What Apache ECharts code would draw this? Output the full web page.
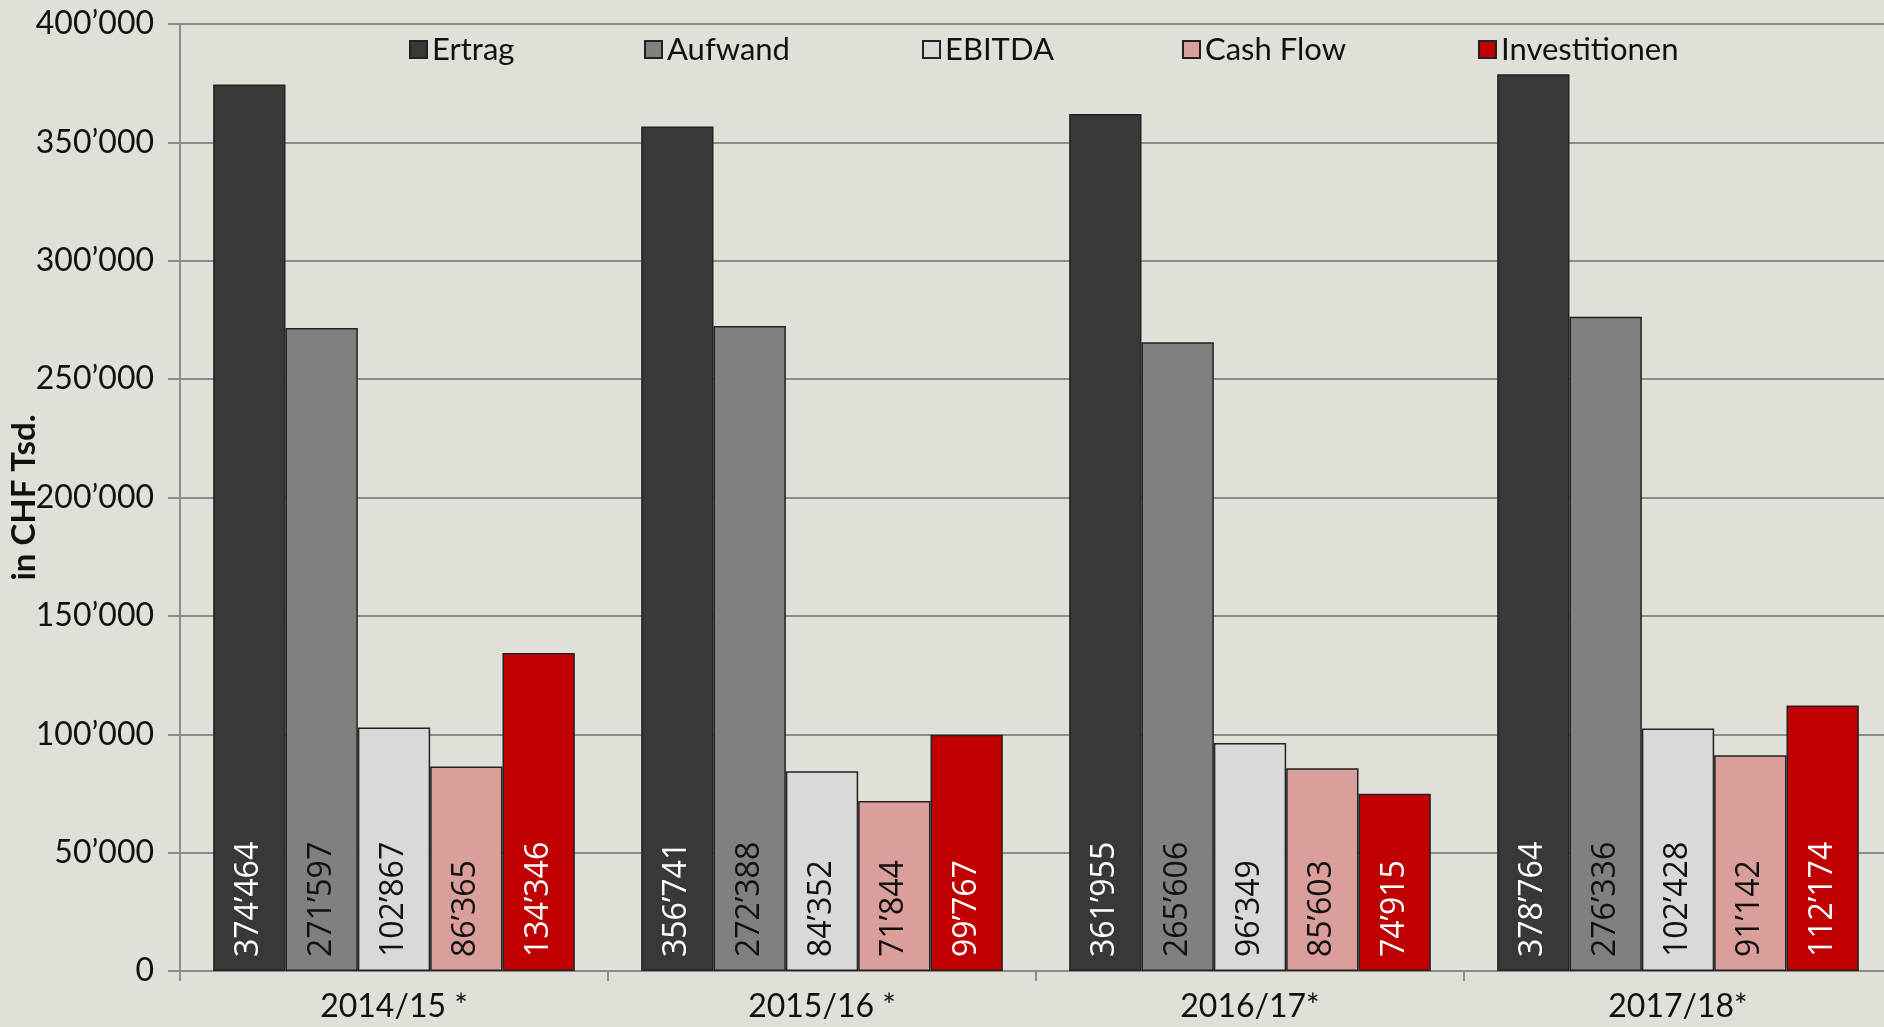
<!DOCTYPE html>
<html><head><meta charset="utf-8">
<script src="https://cdn.jsdelivr.net/npm/echarts@6/dist/echarts.min.js"></script>
<style>html,body{margin:0;padding:0;background:#e0dfd8;}#c{width:1884px;height:1027px;}</style>
</head><body><div id="c"></div>
<script>
const categories = ['2014/15 *', '2015/16 *', '2016/17*', '2017/18*'];
const seriesNames = ['Ertrag', 'Aufwand', 'EBITDA', 'Cash Flow', 'Investitionen'];
const ertrag = [374464, 356741, 361955, 378764];
const aufwand = [271597, 272388, 265606, 276336];
const ebitda = [102867, 84352, 96349, 102428];
const cashFlow = [86365, 71844, 85603, 91142];
const investitionen = [134346, 99767, 74915, 112174];
const seriesData = [ertrag, aufwand, ebitda, cashFlow, investitionen];
const colors = ['#383838', '#808080', '#d9d9d9', '#da9e9b', '#c00000'];
const labelColors = ['#ffffff', '#111111', '#111111', '#111111', '#ffffff'];
const legendLeft = [404, 639, 917, 1177, 1473];

function fmt(v) {
  return String(v).replace(/\B(?=(\d{3})+(?!\d))/g, '\u2019');
}
const FONT = 'Lato';
const chart = echarts.init(document.getElementById('c'));
const option = {
  backgroundColor: '#e0dfd8',
  animation: false,
  textStyle: { fontFamily: FONT },
  legend: seriesNames.map((n, i) => ({
    data: [n], left: legendLeft[i], top: 29, itemWidth: 17, itemHeight: 17, itemGap: 6,
    icon: 'rect', textStyle: { fontSize: 31, color: '#111', fontFamily: FONT }
  })),
  grid: { left: 180, right: -8, top: 24, bottom: 56, outerBoundsMode: 'none', containLabel: false },
  xAxis: {
    type: 'category', data: categories,
    axisLine: { lineStyle: { color: '#8c8c8c', width: 2 } },
    axisTick: { show: true, length: 10, lineStyle: { color: '#8c8c8c', width: 2 } },
    axisLabel: { fontSize: 32, color: '#111', margin: 20, fontFamily: FONT }
  },
  yAxis: {
    type: 'value', min: 0, max: 400000, interval: 50000,
    name: 'in CHF Tsd.', nameLocation: 'middle', nameGap: 139, nameRotate: 90, nameMoveOverlap: false,
    nameTextStyle: { fontSize: 33, fontWeight: 'bold', color: '#111', fontFamily: FONT },
    axisLine: { show: true, lineStyle: { color: '#8c8c8c', width: 2 } },
    axisTick: { show: true, length: 12, lineStyle: { color: '#8c8c8c', width: 2 } },
    axisLabel: { fontSize: 32, color: '#111', margin: 26, formatter: fmt, fontFamily: FONT },
    splitLine: { lineStyle: { color: '#8c8c8c', width: 2 } }
  },
  series: seriesNames.map((n, i) => ({
    name: n, type: 'bar', data: seriesData[i],
    barGap: '0%', barCategoryGap: '15.5%',
    itemStyle: { color: colors[i], borderColor: '#222', borderWidth: 1.5 },
    label: {
      show: true, position: 'insideBottom', rotate: 90, align: 'left', verticalAlign: 'middle',
      distance: 14, fontSize: 32, color: labelColors[i], fontFamily: 'Open Sans',
      formatter: p => fmt(p.value)
    }
  }))
};
chart.setOption(option);
</script></body></html>
